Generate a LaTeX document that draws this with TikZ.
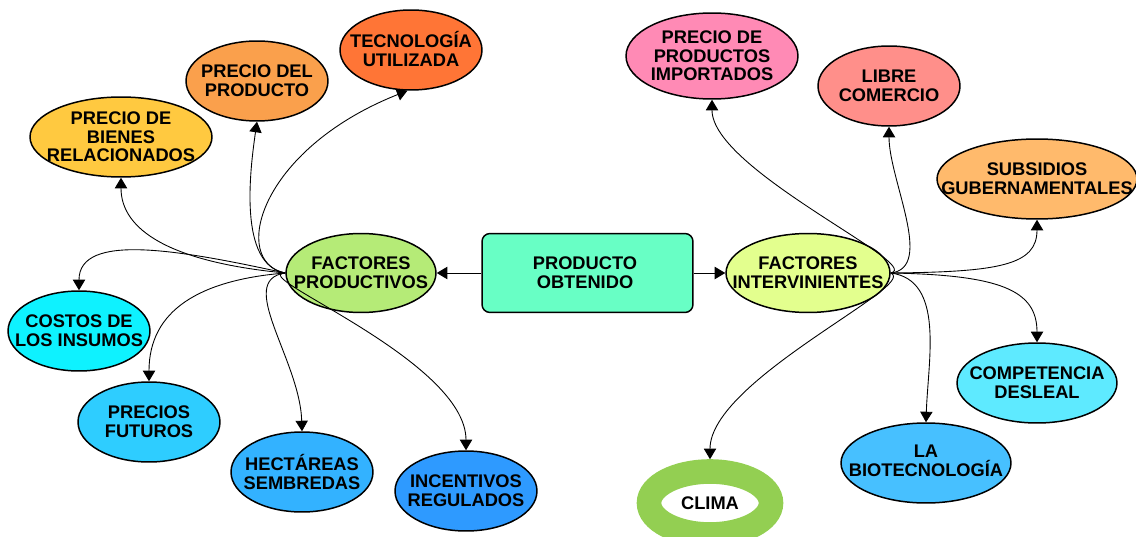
\documentclass[tikz,border=0pt]{standalone}
\usepackage{fontspec}
\setmainfont{Liberation Sans}
\usetikzlibrary{shapes.geometric,arrows.meta}
\newcommand{\lbf}{\fontsize{10.4}{10.6}\selectfont\bfseries}
\definecolor{cBienes}{HTML}{FFC940}
\definecolor{cPrecio}{HTML}{FAA04C}
\definecolor{cTec}{HTML}{FF7536}
\definecolor{cFP}{HTML}{B5EB77}
\definecolor{cPO}{HTML}{68FFC5}
\definecolor{cFI}{HTML}{E3FF8E}
\definecolor{cImp}{HTML}{FF8AB5}
\definecolor{cLib}{HTML}{FF8F8A}
\definecolor{cSub}{HTML}{FFBA6C}
\definecolor{cComp}{HTML}{5EEAFF}
\definecolor{cBio}{HTML}{47C0FF}
\definecolor{cClima}{HTML}{93CF52}
\definecolor{cInc}{HTML}{2E9AFF}
\definecolor{cHec}{HTML}{33B2FF}
\definecolor{cFut}{HTML}{2ECDFF}
\definecolor{cCost}{HTML}{0EF2FF}
\tikzset{
  ell/.style={ellipse, draw=black, line width=0.85pt, inner sep=0pt},
  lbl/.style={font=\lbf, align=center, inner sep=0pt, text=black},
  arr/.style={-{Triangle[length=6pt,width=7pt]}, line width=0.5pt, black},
}
\begin{document}
\begin{tikzpicture}[x=0.02cm, y=-0.02cm]
\useasboundingbox (0,0) rectangle (1136,537);
% ---- nodes ----
\node[ell, fill=cBienes, minimum width=3.64cm, minimum height=1.6cm] (pb) at (121,137) {};
\node[lbl] (pbt) at (pb) {PRECIO DE\\BIENES\\RELACIONADOS};
\node[ell, fill=cPrecio, minimum width=2.84cm, minimum height=1.6cm] (pp) at (257,81) {};
\node[lbl] (ppt) at (pp) {PRECIO DEL\\PRODUCTO};
\node[ell, fill=cTec, minimum width=2.84cm, minimum height=1.6cm] (tec) at (411,50) {};
\node[lbl] (tect) at (411,49) {TECNOLOGÍA\\UTILIZADA};
\node[ell, fill=cFP, minimum width=3.0cm, minimum height=1.58cm] (fp) at (361,273) {};
\node[lbl] (fpt) at (fp) {FACTORES\\PRODUCTIVOS};
\node[draw=black, line width=0.85pt, fill=cPO, rounded corners=0.16cm, minimum width=4.22cm, minimum height=1.58cm, inner sep=0pt] (po) at (587.5,273) {};
\node[lbl] (pot) at (585,273) {PRODUCTO\\OBTENIDO};
\node[ell, fill=cFI, minimum width=3.28cm, minimum height=1.58cm] (fi) at (808,273) {};
\node[lbl] (fit) at (fi) {FACTORES\\INTERVINIENTES};
\node[ell, fill=cCost, minimum width=2.84cm, minimum height=1.6cm] (cost) at (79,331) {};
\node[lbl] (costt) at (cost) {COSTOS DE\\LOS INSUMOS};
\node[ell, fill=cFut, minimum width=2.84cm, minimum height=1.6cm] (fut) at (149,422) {};
\node[lbl] (futt) at (fut) {PRECIOS\\FUTUROS};
\node[ell, fill=cHec, minimum width=2.84cm, minimum height=1.6cm] (hec) at (302,472) {};
\node[lbl] (hect) at (hec) {HECTÁREAS\\SEMBREDAS};
\node[ell, fill=cInc, minimum width=2.84cm, minimum height=1.6cm] (inc) at (466,491) {};
\node[lbl] (inct) at (inc) {INCENTIVOS\\REGULADOS};
\node[ell, fill=cImp, minimum width=3.44cm, minimum height=1.72cm] (imp) at (712,56) {};
\node[lbl] (impt) at (imp) {PRECIO DE\\PRODUCTOS\\IMPORTADOS};
\node[ell, fill=cLib, minimum width=2.84cm, minimum height=1.6cm] (lib) at (889,86) {};
\node[lbl] (libt) at (lib) {LIBRE\\COMERCIO};
\node[ell, fill=cSub, minimum width=4.0cm, minimum height=1.6cm] (sub) at (1037,179) {};
\node[lbl] (subt) at (sub) {SUBSIDIOS\\GUBERNAMENTALES};
\node[ell, fill=cComp, minimum width=3.2cm, minimum height=1.6cm] (comp) at (1037,383) {};
\node[lbl] (compt) at (comp) {COMPETENCIA\\DESLEAL};
\node[ell, fill=cBio, minimum width=3.4cm, minimum height=1.6cm] (bio) at (926,463) {};
\node[lbl] (biot) at (926,461) {LA\\BIOTECNOLOGÍA};
\node[ellipse, draw=cClima, fill=white, line width=14pt, inner sep=0pt, minimum width=2.44cm, minimum height=1.26cm] (clima) at (710,503) {};
\node[lbl] (climat) at (clima) {CLIMA};
% ---- connectors ----
\draw[arr] (po.west) -- (fp.east);
\draw[arr] (po.east) -- (fi.west);
% left hub
\draw[arr] (fp.west) .. controls (170,262) and (121,230) .. (pb.south);
\draw[arr] (fp.west) .. controls (238,265) and (250,170) .. (pp.south);
\draw[arr] (fp.west) .. controls (230,262) and (258,150) .. (tec.-95);
\draw[arr] (fp.west) .. controls (180,250) and (79,232) .. (cost.north);
\draw[arr] (fp.west) .. controls (200,280) and (149,310) .. (fut.north);
\draw[arr] (fp.west) .. controls (235,280) and (300,360) .. (hec.north);
\draw[arr] (fp.west) .. controls (245,275) and (466,360) .. (inc.north);
% right hub
\draw[arr] (fi.east) .. controls (925,265) and (712,170) .. (imp.south);
\draw[arr] (fi.east) .. controls (935,268) and (889,180) .. (lib.south);
\draw[arr] (fi.east) .. controls (1000,272) and (1037,265) .. (sub.south);
\draw[arr] (fi.east) .. controls (1000,275) and (1037,290) .. (comp.north);
\draw[arr] (fi.east) .. controls (945,280) and (928,360) .. (bio.north);
\draw[arr] (fi.east) .. controls (920,285) and (710,380) .. (clima.north);
\end{tikzpicture}
\end{document}
